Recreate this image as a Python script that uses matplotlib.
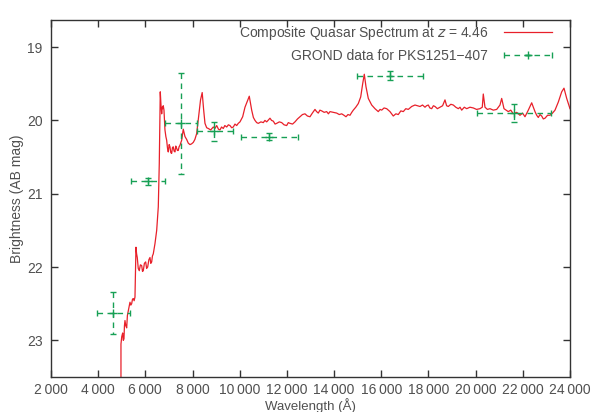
import matplotlib
matplotlib.use('agg')
import matplotlib.pyplot as plt
from matplotlib.ticker import FuncFormatter, MultipleLocator
from matplotlib.legend_handler import HandlerErrorbar

plt.rcParams['font.family'] = ['Liberation Sans', 'DejaVu Sans']

# composite quasar spectrum (wavelength in A, AB mag)
spec_wave = [4967, 4967, 5000, 5039, 5065, 5094, 5115, 5137, 5170, 5209, 5240,
             5277, 5310, 5349, 5385, 5421, 5455, 5489, 5525, 5561, 5603, 5630,
             5658, 5700, 5743, 5790, 5845, 5880, 5913, 5960, 6014, 6055, 6099,
             6150, 6197, 6230, 6269, 6300, 6337, 6409, 6481, 6549, 6591, 6633,
             6665, 6693, 6715, 6735, 6760, 6790, 6832, 6870, 6904, 6940, 6972,
             7010, 7044, 7080, 7116, 7150, 7184, 7220, 7256, 7290, 7328, 7360,
             7396, 7430, 7468, 7540, 7608, 7680, 7752, 7820, 7892, 7960, 8032,
             8100, 8176, 8273, 8340, 8410, 8470, 8528, 8600, 8668, 8770, 8880,
             8950, 9024, 9100, 9164, 9230, 9304, 9370, 9448, 9520, 9588, 9660,
             9728, 9800, 9872, 9940, 10012, 10126, 10224, 10320, 10406, 10508,
             10580, 10648, 10720, 10788, 10900, 11000, 11070, 11144, 11284,
             11350, 11424, 11500, 11568, 11680, 11780, 11880, 11991, 12060,
             12131, 12240, 12343, 12450, 12555, 12660, 12767, 12870, 12979,
             13080, 13191, 13260, 13331, 13400, 13475, 13580, 13687, 13760,
             13827, 13970, 14111, 14220, 14323, 14420, 14505, 14590, 14675,
             14750, 14815, 14920, 15027, 15129, 15213, 15281, 15353, 15451,
             15595, 15734, 15874, 15950, 16018, 16120, 16230, 16300, 16370,
             16510, 16620, 16722, 16830, 16934, 17040, 17146, 17290, 17430,
             17540, 17642, 17750, 17854, 17920, 17994, 18060, 18138, 18210,
             18278, 18380, 18490, 18600, 18702, 18770, 18842, 18950, 19054,
             19160, 19266, 19340, 19410, 19520, 19622, 19760, 19902, 20040,
             20185, 20283, 20325, 20397, 20500, 20609, 20750, 20893, 21033,
             21105, 21203, 21290, 21385, 21490, 21597, 21740, 21881, 21990,
             22093, 22233, 22377, 22517, 22590, 22657, 22730, 22800, 22870,
             22941, 23050, 23153, 23260, 23365, 23505, 23649, 23746, 23861,
             24000]
spec_mag = [23.60, 23.05, 22.95, 22.90, 23.00, 22.98, 22.80, 22.73, 22.80, 22.83, 22.66,
            22.60, 22.55, 22.48, 22.52, 22.50, 22.44, 22.43, 22.46, 22.41, 21.73, 21.82,
            21.87, 22.02, 22.05, 21.97, 21.98, 22.06, 22.05, 21.95, 21.93, 22.02, 22.00,
            21.90, 21.87, 21.95, 21.93, 21.85, 21.82, 21.68, 21.50, 21.18, 20.59, 19.61,
            19.80, 19.91, 19.82, 19.84, 19.80, 19.86, 20.13, 20.22, 20.27, 20.38, 20.43,
            20.33, 20.36, 20.44, 20.45, 20.37, 20.36, 20.42, 20.43, 20.35, 20.38, 20.41,
            20.41, 20.36, 20.34, 20.27, 20.12, 20.22, 20.26, 20.31, 20.33, 20.32, 20.30,
            20.26, 20.18, 19.91, 19.72, 19.62, 19.85, 20.04, 20.10, 20.11, 20.13, 20.09,
            20.11, 20.07, 20.12, 20.13, 20.09, 20.11, 20.07, 20.09, 20.06, 20.07, 20.10,
            20.09, 20.05, 20.07, 20.04, 20.02, 19.95, 19.82, 19.74, 19.67, 19.86,
            19.96, 20.00, 20.03, 20.04, 20.02, 20.03, 20.00, 20.02, 19.97,
            20.00, 20.01, 20.05, 20.04, 20.02, 20.03, 20.06, 20.07, 20.03,
            20.04, 20.05, 20.02, 19.98, 19.95, 19.92, 19.91, 19.94, 19.95,
            19.90, 19.85, 19.88, 19.90, 19.86, 19.87, 19.89, 19.88, 19.91,
            19.88, 19.89, 19.90, 19.92, 19.91, 19.93, 19.95, 19.92, 19.93,
            19.89, 19.86, 19.82, 19.77, 19.68, 19.50, 19.37, 19.54, 19.70,
            19.79, 19.84, 19.88, 19.85, 19.86, 19.83, 19.84, 19.86, 19.88,
            19.94, 19.91, 19.92, 19.87, 19.88, 19.84, 19.85, 19.81, 19.79,
            19.80, 19.81, 19.79, 19.82, 19.80, 19.79, 19.83, 19.84, 19.80,
            19.81, 19.84, 19.82, 19.80, 19.72, 19.80, 19.81, 19.78, 19.79,
            19.82, 19.84, 19.82, 19.86, 19.82, 19.84, 19.82, 19.83, 19.85,
            19.84, 19.82, 19.64, 19.82, 19.85, 19.84, 19.86, 19.85, 19.79,
            19.70, 19.84, 19.86, 19.88, 19.86, 19.91, 19.89, 19.93, 19.90,
            19.95, 19.86, 19.76, 19.88, 19.93, 19.96, 19.92, 19.94, 19.98,
            19.97, 19.93, 19.93, 19.90, 19.86, 19.75, 19.61, 19.56, 19.70,
            19.84]

# GROND photometry
grond_wave = [4628, 6100, 7500, 8930, 11250, 16370, 21610]
grond_wave_lo = [3950, 5380, 6830, 8170, 10040, 14960, 20050]
grond_wave_hi = [5350, 6830, 8170, 9720, 12480, 17780, 23200]
grond_mag = [22.63, 20.83, 20.04, 20.15, 20.22, 19.39, 19.90]
grond_err = [0.29, 0.05, 0.69, 0.13, 0.05, 0.06, 0.12]

red = '#e8202a'
green = '#17a055'
grey = '#505050'

fig = plt.figure(figsize=(5.92, 4.12), dpi=100)
ax = fig.add_axes([0.0861, 0.085, 0.8767, 0.8665])

ax.plot(spec_wave, spec_mag, color=red, lw=0.9,
        label='Composite Quasar Spectrum at $z$ = 4.46')

xerr = [[w - lo for w, lo in zip(grond_wave, grond_wave_lo)],
        [hi - w for w, hi in zip(grond_wave, grond_wave_hi)]]
eb = ax.errorbar(grond_wave, grond_mag, xerr=xerr, yerr=grond_err,
                 fmt='+', color=green, ms=6, mew=1.0, ecolor=green,
                 elinewidth=1.0, capsize=2.2, capthick=1.0,
                 label='GROND data for PKS1251\u2212407')
for lc in eb[2]:
    lc.set_linestyle((0, (4, 3.2)))

ax.set_xlim(2000, 24000)
ax.set_ylim(23.5, 18.63)
ax.xaxis.set_major_locator(MultipleLocator(2000))
ax.yaxis.set_major_locator(MultipleLocator(1))
ax.xaxis.set_major_formatter(FuncFormatter(
    lambda v, p: f'{int(v):,}'.replace(',', '\u2009')))
ax.yaxis.set_major_formatter(FuncFormatter(lambda v, p: f'{int(v)}'))
ax.tick_params(direction='in', length=5, width=1, top=True, right=True,
               labelsize=10, labelcolor=grey, color='#333333', pad=6)
ax.tick_params(axis='x', pad=4.5)
for s in ax.spines.values():
    s.set_color('#333333')
    s.set_linewidth(1)

ax.set_xlabel('Wavelength (Å)', fontsize=9.5, color=grey)
ax.xaxis.set_label_coords(0.5, -0.059)
ax.set_ylabel('Brightness (AB mag)', fontsize=10, color=grey, labelpad=2)

leg = ax.legend(loc='upper right', bbox_to_anchor=(0.9846, 1.0168),
                frameon=False, markerfirst=False,
                fontsize=10, handlelength=3.5, handletextpad=1.1,
                labelspacing=0.55, borderaxespad=0.3,
                handler_map={type(eb): HandlerErrorbar(xerr_size=1.75, yerr_size=0.0)})
for t in leg.get_texts():
    t.set_color(grey)

fig.savefig('out.png', dpi=100)
